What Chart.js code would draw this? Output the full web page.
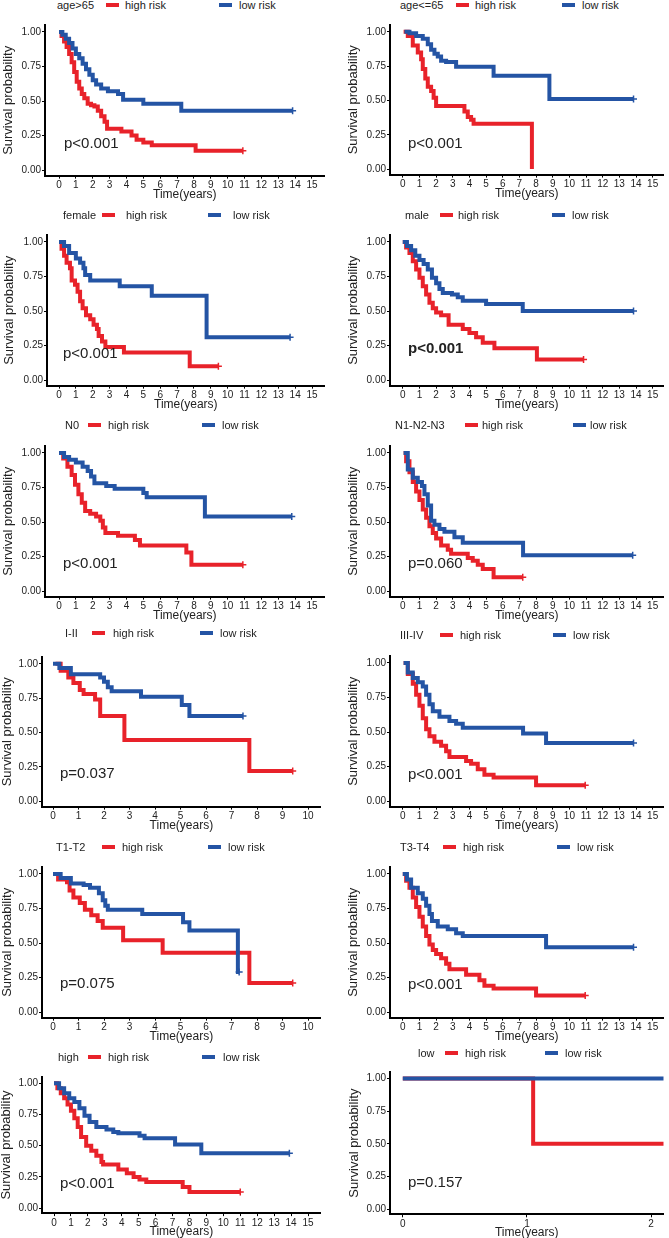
<!DOCTYPE html>
<html>
<head>
<meta charset="utf-8">
<script src="https://cdn.jsdelivr.net/npm/chart.js@4.4.1/dist/chart.umd.min.js"></script>
<style>
body{margin:0;background:#fff;}
#wrap{position:relative;width:669px;height:1238px;overflow:hidden;background:#fff;font-family:"Liberation Sans",Arial,sans-serif;color:#222;}
#wrap canvas{position:absolute;}
.lg{position:absolute;font-size:11px;line-height:14px;white-space:nowrap;}
.sw{position:absolute;width:13px;height:4px;}
.pv{position:absolute;font-size:15px;line-height:18px;white-space:nowrap;}
</style>
</head>
<body>
<div id="wrap"></div>
<script>
// strata titles, p values, ticks
var strata=['age>65','age<=65','female','male','N0','N1-N2-N3','I-II','III-IV','T1-T2','T3-T4','high','low'];
var pValues=['p<0.001','p<0.001','p<0.001','p<0.001','p<0.001','p=0.060','p=0.037','p<0.001','p=0.075','p<0.001','p<0.001','p=0.157'];
var xTicks15=[0,1,2,3,4,5,6,7,8,9,10,11,12,13,14,15];
var xTicks10=[0,1,2,3,4,5,6,7,8,9,10];
var xTicks2=[0,1,2];
var yTicks=[0,0.25,0.5,0.75,1];

// survival curves (time in years, survival probability)
var ageOldHighT=[0,0.15,0.3,0.45,0.6,0.75,0.9,1.05,1.2,1.35,1.5,1.7,1.9,2.1,2.3,2.5,2.7,2.85,3.7,4.3,4.6,5.0,5.5,8.1,10.9];
var ageOldHighS=[1,0.97,0.93,0.89,0.84,0.78,0.71,0.64,0.59,0.55,0.52,0.48,0.47,0.46,0.43,0.39,0.35,0.30,0.28,0.25,0.22,0.20,0.18,0.14,0.14];
var ageOldLowT=[0,0.2,0.4,0.6,0.8,1.0,1.2,1.4,1.6,1.8,2.0,2.2,2.5,2.9,3.5,3.8,5.0,7.25,13.85];
var ageOldLowS=[1,0.98,0.95,0.92,0.88,0.84,0.81,0.77,0.73,0.69,0.65,0.62,0.59,0.57,0.55,0.51,0.48,0.43,0.43];

var ageYoungHighT=[0.05,0.3,0.6,0.9,1.1,1.2,1.35,1.5,1.7,1.85,2.0,3.7,3.9,4.1,4.25,7.75];
var ageYoungHighS=[1,0.97,0.9,0.85,0.8,0.73,0.66,0.6,0.57,0.52,0.46,0.42,0.38,0.36,0.33,0.0];
var ageYoungLowT=[0.1,0.4,0.8,1.2,1.5,1.7,1.9,2.1,2.3,2.6,3.2,5.45,8.8,13.85];
var ageYoungLowS=[1,0.99,0.97,0.95,0.91,0.87,0.84,0.82,0.79,0.78,0.745,0.68,0.51,0.51];

var femaleHighT=[0.05,0.15,0.3,0.45,0.65,0.75,0.95,1.1,1.25,1.4,1.6,1.85,2.05,2.25,2.35,2.55,2.75,3.85,7.75,9.45];
var femaleHighS=[1,0.95,0.9,0.85,0.81,0.72,0.69,0.64,0.57,0.52,0.47,0.44,0.40,0.37,0.32,0.28,0.24,0.20,0.10,0.10];
var femaleLowT=[0,0.3,0.6,1.0,1.25,1.45,1.55,1.85,3.6,5.5,8.75,13.7];
var femaleLowS=[1,0.97,0.92,0.88,0.85,0.81,0.76,0.72,0.68,0.61,0.31,0.31];

var maleHighT=[0,0.2,0.4,0.6,0.8,1.0,1.2,1.4,1.6,1.8,2.0,2.3,2.75,3.6,4.0,4.4,4.8,5.5,8.05,10.85];
var maleHighS=[1,0.96,0.92,0.86,0.8,0.74,0.68,0.62,0.56,0.52,0.49,0.47,0.40,0.37,0.34,0.31,0.27,0.23,0.15,0.15];
var maleLowT=[0,0.25,0.5,0.75,1.0,1.25,1.5,1.75,2.0,2.2,2.4,2.95,3.3,3.6,5.0,7.2,13.85];
var maleLowS=[1,0.97,0.94,0.9,0.87,0.84,0.8,0.74,0.7,0.66,0.63,0.62,0.6,0.575,0.55,0.50,0.50];

var n0HighT=[0,0.25,0.5,0.75,0.95,1.15,1.35,1.55,1.85,2.2,2.45,2.6,2.75,3.5,4.5,4.8,7.55,7.85,10.9];
var n0HighS=[1,0.96,0.9,0.84,0.77,0.70,0.64,0.58,0.56,0.54,0.51,0.46,0.42,0.40,0.37,0.33,0.28,0.19,0.19];
var n0LowT=[0,0.3,0.6,1.0,1.4,1.7,1.9,2.1,2.8,3.3,5.0,5.2,8.65,13.8];
var n0LowS=[1,0.97,0.95,0.93,0.9,0.87,0.83,0.78,0.76,0.74,0.71,0.68,0.54,0.54];

var n123HighT=[0.05,0.2,0.4,0.6,0.8,1.0,1.2,1.4,1.6,1.8,2.0,2.3,2.7,2.9,3.9,4.2,4.5,4.8,5.45,7.2];
var n123HighS=[1,0.94,0.86,0.79,0.72,0.66,0.59,0.53,0.47,0.42,0.38,0.33,0.30,0.27,0.24,0.22,0.19,0.16,0.10,0.10];
var n123LowT=[0.05,0.3,0.6,0.9,1.15,1.3,1.5,1.7,1.9,2.2,2.5,3.1,3.6,7.22,13.8];
var n123LowS=[1,0.88,0.82,0.79,0.76,0.70,0.62,0.51,0.48,0.45,0.43,0.39,0.35,0.26,0.26];

var stage12HighT=[0.1,0.3,0.6,0.8,1.05,1.2,1.65,1.85,2.8,7.7,9.4];
var stage12HighS=[1,0.95,0.9,0.86,0.81,0.78,0.74,0.62,0.445,0.22,0.22];
var stage12LowT=[0,0.25,0.7,1.85,2.0,2.15,2.3,3.45,5.05,5.35,7.45];
var stage12LowS=[1,0.97,0.925,0.9,0.87,0.83,0.80,0.76,0.70,0.62,0.62];

var stage34HighT=[0.05,0.3,0.6,0.8,1.0,1.2,1.4,1.6,1.9,2.3,2.6,2.8,3.8,4.1,4.5,4.9,5.45,8.0,10.95];
var stage34HighS=[1,0.92,0.85,0.77,0.69,0.60,0.52,0.47,0.43,0.40,0.36,0.32,0.29,0.27,0.23,0.19,0.17,0.115,0.115];
var stage34LowT=[0.05,0.3,0.6,0.9,1.2,1.4,1.6,1.8,2.2,2.8,3.2,3.6,7.22,8.6,13.85];
var stage34LowS=[1,0.93,0.89,0.86,0.83,0.77,0.70,0.65,0.61,0.58,0.56,0.53,0.49,0.42,0.42];

var t12HighT=[0,0.2,0.55,0.65,0.8,1.05,1.25,1.5,1.75,1.95,2.75,4.3,7.7,9.4];
var t12HighS=[1,0.96,0.94,0.88,0.83,0.79,0.74,0.70,0.66,0.61,0.52,0.43,0.21,0.21];
var t12LowT=[0,0.3,0.7,1.2,1.45,1.8,1.95,2.05,2.15,3.5,5.1,5.35,7.25,7.3];
var t12LowS=[1,0.97,0.93,0.92,0.90,0.86,0.81,0.77,0.74,0.71,0.65,0.59,0.29,0.29];

var t34HighT=[0,0.2,0.4,0.6,0.8,1.0,1.2,1.4,1.6,1.8,2.0,2.3,2.6,2.8,3.8,4.6,4.9,5.45,8.0,10.95];
var t34HighS=[1,0.95,0.9,0.83,0.76,0.69,0.62,0.55,0.49,0.45,0.42,0.39,0.35,0.31,0.27,0.23,0.19,0.17,0.12,0.12];
var t34LowT=[0,0.25,0.5,0.9,1.2,1.4,1.6,1.75,2.1,2.7,3.2,3.6,8.6,13.85];
var t34LowS=[1,0.96,0.9,0.86,0.82,0.77,0.71,0.66,0.62,0.60,0.57,0.55,0.47,0.47];

var gradeHighHighT=[0,0.2,0.4,0.6,0.8,1.0,1.2,1.4,1.6,1.9,2.2,2.5,2.8,2.9,3.8,4.3,4.7,5.05,5.45,7.6,8.0,11.0];
var gradeHighHighS=[1,0.96,0.92,0.88,0.83,0.78,0.72,0.65,0.57,0.50,0.46,0.42,0.37,0.35,0.31,0.28,0.25,0.23,0.21,0.17,0.13,0.13];
var gradeHighLowT=[0,0.3,0.6,0.9,1.2,1.5,1.8,2.1,2.5,3.1,3.5,3.8,5.05,5.35,7.15,8.7,13.9];
var gradeHighLowS=[1,0.96,0.92,0.88,0.85,0.80,0.74,0.69,0.65,0.63,0.61,0.60,0.58,0.56,0.51,0.44,0.44];

var gradeLowHighT=[0,1.05,2.3];
var gradeLowHighS=[1,0.5,0.5];
var gradeLowLowT=[0,2.3];
var gradeLowLowS=[1,1];

var curves=[
  [ageOldHighT,ageOldHighS,ageOldLowT,ageOldLowS],
  [ageYoungHighT,ageYoungHighS,ageYoungLowT,ageYoungLowS],
  [femaleHighT,femaleHighS,femaleLowT,femaleLowS],
  [maleHighT,maleHighS,maleLowT,maleLowS],
  [n0HighT,n0HighS,n0LowT,n0LowS],
  [n123HighT,n123HighS,n123LowT,n123LowS],
  [stage12HighT,stage12HighS,stage12LowT,stage12LowS],
  [stage34HighT,stage34HighS,stage34LowT,stage34LowS],
  [t12HighT,t12HighS,t12LowT,t12LowS],
  [t34HighT,t34HighS,t34LowT,t34LowS],
  [gradeHighHighT,gradeHighHighS,gradeHighLowT,gradeHighLowS],
  [gradeLowHighT,gradeLowHighS,gradeLowLowT,gradeLowLowS]
];
var xTickSets=[xTicks15,xTicks15,xTicks15,xTicks15,xTicks15,xTicks15,xTicks10,xTicks15,xTicks10,xTicks15,xTicks15,xTicks2];

// panel geometry: canvas left, y axis x, px of y=1 and y=0, px of first/last x tick, y title center
var geo=[
  {left:0,axisX:45,y1:29,y0:170,x0:59,xN:312,ytx:8},
  {left:335,axisX:390,y1:29,y0:169,x0:403,xN:657,ytx:353},
  {left:0,axisX:47,y1:239,y0:380,x0:59,xN:312,ytx:9},
  {left:335,axisX:390,y1:239,y0:380,x0:403,xN:657,ytx:353},
  {left:0,axisX:45,y1:450,y0:591,x0:59,xN:312,ytx:8},
  {left:335,axisX:390,y1:450,y0:591,x0:403,xN:657,ytx:353},
  {left:0,axisX:42,y1:661,y0:801,x0:53,xN:308,ytx:7},
  {left:335,axisX:390,y1:660,y0:801,x0:403,xN:657,ytx:353},
  {left:0,axisX:42,y1:871,y0:1012,x0:53,xN:308,ytx:7},
  {left:335,axisX:390,y1:871,y0:1012,x0:403,xN:657,ytx:353},
  {left:0,axisX:42,y1:1080,y0:1208,x0:54,xN:308,ytx:6},
  {left:335,axisX:390,y1:1076,y0:1209,x0:403,xN:655,ytx:354}
];
// legend row: title x, red key x, "high risk" x, blue key x, "low risk" x, center y
var legPos=[
  [57,106,125,219,239,5],[400,456,475,562,582,5],
  [63,102,126,208,233,215],[405,440,458,552,572,215],
  [65,88,108,202,222,425],[395,465,482,573,590,425],
  [65,92,113,200,220,633],[400,440,460,553,573,635],
  [56,102,122,208,228,847],[400,443,463,557,577,847],
  [58,88,108,202,223,1057],[418,445,465,545,565,1053]
];
var pPos=[[64,143],[408,143],[63,353],[408,348],[63,563],[408,563],[60,773],[408,774],[60,983],[408,984],[60,1183],[408,1182]];

var RED='#E8222A', BLUE='#2454A4';
var wrap=document.getElementById('wrap');
Chart.defaults.font.family='"Liberation Sans", Arial, sans-serif';
Chart.defaults.color='#222';

function addText(cls,txt,x,y,bold){
  var d=document.createElement('div');
  d.className=cls;d.textContent=txt;
  d.style.left=x+'px';
  d.style.top=(y-(cls=='pv'?9:7))+'px';
  if(bold)d.style.fontWeight='bold';
  wrap.appendChild(d);
}
function addKey(x,y,c){
  var d=document.createElement('div');
  d.className='sw';d.style.left=x+'px';d.style.top=(y-2)+'px';d.style.background=c;
  wrap.appendChild(d);
}
function endCross(ctx){
  var d=ctx.dataset.data,n=d.length;
  return (ctx.dataIndex===n-1 && n>1 && d[n-1].y===d[n-2].y)?3.5:0;
}
function xy(t,s){return t.map(function(v,i){return {x:v,y:s[i]};});}

for(var i=0;i<12;i++){
  var g=geo[i], ticks=xTickSets[i], N=ticks[ticks.length-1];
  var k=g.y0-g.y1;
  var chartTop=g.y1-0.05*k, chartBottom=g.y0+0.04*k;
  var u=(g.xN-g.x0)/N;
  var xmin=(g.axisX-g.x0)/u;
  var right=Math.min(g.x0+N*1.05*u,668);
  var xmax=(right-g.x0)/u;
  var cTop=Math.round(chartTop-4);
  var H=Math.round(chartBottom+27-cTop);
  var W=334;
  var cv=document.createElement('canvas');
  cv.width=W;cv.height=H;
  cv.style.left=g.left+'px';cv.style.top=cTop+'px';
  cv.style.width=W+'px';cv.style.height=H+'px';
  wrap.appendChild(cv);

  var lp=legPos[i];
  addText('lg',strata[i],lp[0],lp[5]);
  addKey(lp[1],lp[5],RED);
  addText('lg','high risk',lp[2],lp[5]);
  addKey(lp[3],lp[5],BLUE);
  addText('lg','low risk',lp[4],lp[5]);
  addText('pv',pValues[i],pPos[i][0],pPos[i][1],i===3);

  var c=curves[i];
  (function(g,ticks,xmin,xmax,H,chartTop,chartBottom,cTop,right){
    var yW=g.axisX-g.left;
    var xH=H-(chartBottom-cTop);
    new Chart(cv.getContext('2d'),{
      type:'line',
      data:{datasets:[
        {label:'high risk',data:xy(c[0],c[1]),borderColor:RED,backgroundColor:RED,borderWidth:4,stepped:'before',
         pointStyle:'cross',pointRadius:endCross,pointBorderWidth:1.5,pointHitRadius:0,fill:false,order:2},
        {label:'low risk',data:xy(c[2],c[3]),borderColor:BLUE,backgroundColor:BLUE,borderWidth:4,stepped:'before',
         pointStyle:'cross',pointRadius:endCross,pointBorderWidth:1.5,pointHitRadius:0,fill:false,order:1}
      ]},
      options:{
        responsive:false,animation:false,
        layout:{padding:{top:chartTop-cTop,left:0,bottom:0,right:W-(right-g.left)}},
        plugins:{legend:{display:false},tooltip:{enabled:false}},
        scales:{
          x:{type:'linear',min:xmin,max:xmax,
            afterBuildTicks:function(s){s.ticks=ticks.map(function(v){return {value:v};});},
            afterFit:function(s){s.height=xH;},
            ticks:{font:{size:10},color:'#222',padding:1,maxRotation:0,autoSkip:false,callback:function(v){return String(v);}},
            grid:{drawOnChartArea:false,drawTicks:true,tickLength:3,color:'#000',lineWidth:1},
            border:{display:true,color:'#000',width:2},
            title:{display:true,text:'Time(years)',font:{size:12},color:'#222',padding:{top:0,bottom:1}}
          },
          y:{type:'linear',min:-0.04,max:1.05,
            afterBuildTicks:function(s){s.ticks=yTicks.map(function(v){return {value:v};});},
            afterFit:function(s){s.width=yW;},
            ticks:{font:{size:10},color:'#222',padding:1,callback:function(v){return Number(v).toFixed(2);}},
            grid:{drawOnChartArea:false,drawTicks:true,tickLength:3,color:'#000',lineWidth:1},
            border:{display:true,color:'#000',width:2},
            title:{display:true,text:'Survival probability',font:{size:13},color:'#222',padding:{top:g.ytx-g.left-7.8,bottom:0}}
          }
        }
      }
    });
  })(g,ticks,xmin,xmax,H,chartTop,chartBottom,cTop,right);
}
</script>
</body>
</html>
